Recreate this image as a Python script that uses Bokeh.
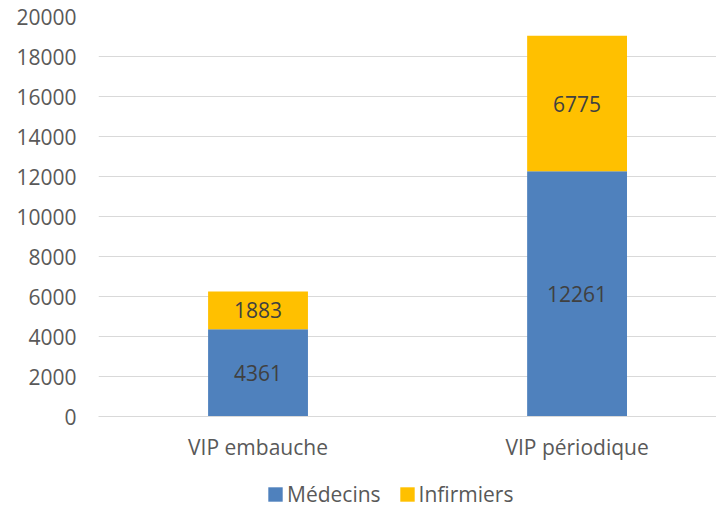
from bokeh.plotting import figure
from bokeh.layouts import column
from bokeh.models import ColumnDataSource, Range1d, FixedTicker, SingleIntervalTicker, Legend, LegendItem
from bokeh.core.properties import value
from bokeh.embed import file_html
from bokeh.resources import INLINE

categories = ["VIP embauche", "VIP périodique"]
series_names = ["Médecins", "Infirmiers"]
medecins = [4361, 12261]
infirmiers = [1883, 6775]
colors = ["#4F81BD", "#FFC000"]

FONT = "Open Sans"
FS = "21px"

xpos = [i + 0.5 for i in range(len(categories))]
src = ColumnDataSource(dict(x=xpos, med=medecins, inf=infirmiers))

p = figure(width=716, height=466, output_backend="svg", toolbar_location=None,
           x_range=Range1d(0, 1.937), y_range=Range1d(0, 20000),
           min_border_left=98, min_border_right=0, min_border_top=16, min_border_bottom=50)
p.outline_line_color = None
p.background_fill_color = "white"
p.border_fill_color = "white"

rs = p.vbar_stack(["med", "inf"], x="x", width=0.313, source=src, color=colors, line_color=None)

# data labels
med_mid = [m / 2 for m in medecins]
inf_mid = [m + i / 2 for m, i in zip(medecins, infirmiers)]
lab = ColumnDataSource(dict(
    x=xpos + xpos,
    y=med_mid + inf_mid,
    t=[str(v) for v in medecins] + [str(v) for v in infirmiers],
))
p.text(x="x", y="y", text="t", source=lab, text_align="center", text_baseline="middle",
       text_font=value(FONT), text_font_size=FS, text_color="#404040")

# axes
p.yaxis.ticker = SingleIntervalTicker(interval=2000)
p.yaxis.axis_line_color = None
p.yaxis.major_tick_line_color = None
p.yaxis.minor_tick_line_color = None
p.yaxis.major_tick_out = 0
p.yaxis.major_label_standoff = 18
p.yaxis.major_label_text_font = FONT
p.yaxis.major_label_text_font_size = FS
p.yaxis.major_label_text_color = "#595959"

p.xaxis.ticker = FixedTicker(ticks=xpos)
p.xaxis.major_label_overrides = {x: c for x, c in zip(xpos, categories)}
p.xaxis.axis_line_color = "#D9D9D9"
p.xaxis.axis_line_width = 1
p.xaxis.major_tick_line_color = None
p.xaxis.minor_tick_line_color = None
p.xaxis.major_tick_out = 0
p.xaxis.major_label_standoff = 16
p.xaxis.major_label_text_font = FONT
p.xaxis.major_label_text_font_size = FS
p.xaxis.major_label_text_color = "#595959"

p.xgrid.grid_line_color = None
p.ygrid.grid_line_color = "#D9D9D9"
p.ygrid.grid_line_width = 1

# legend strip
p2 = figure(width=716, height=42, output_backend="svg", toolbar_location=None,
            x_range=Range1d(0, 1), y_range=Range1d(0, 1),
            min_border_left=0, min_border_right=0, min_border_top=0, min_border_bottom=0)
p2.axis.visible = False
p2.grid.visible = False
p2.outline_line_color = None
leg_src = ColumnDataSource(dict(x=xpos, med=medecins, inf=infirmiers))
dummies = [p2.vbar(x="x", top=col, width=0.1, source=leg_src, color=c, line_color=None, visible=False)
           for col, c in zip(["med", "inf"], colors)]

legend = Legend(items=[LegendItem(label=n, renderers=[r]) for n, r in zip(series_names, dummies)],
                orientation="horizontal", location=(168, 0),
                glyph_width=18, glyph_height=18, label_standoff=3, spacing=17,
                padding=0, margin=0, border_line_color=None, background_fill_alpha=0,
                label_text_font=FONT, label_text_font_size=FS, label_text_color="#595959")
p2.add_layout(legend, "center")

layout = column(p, p2, spacing=0)
open("out.html", "w").write(file_html(layout, INLINE))
